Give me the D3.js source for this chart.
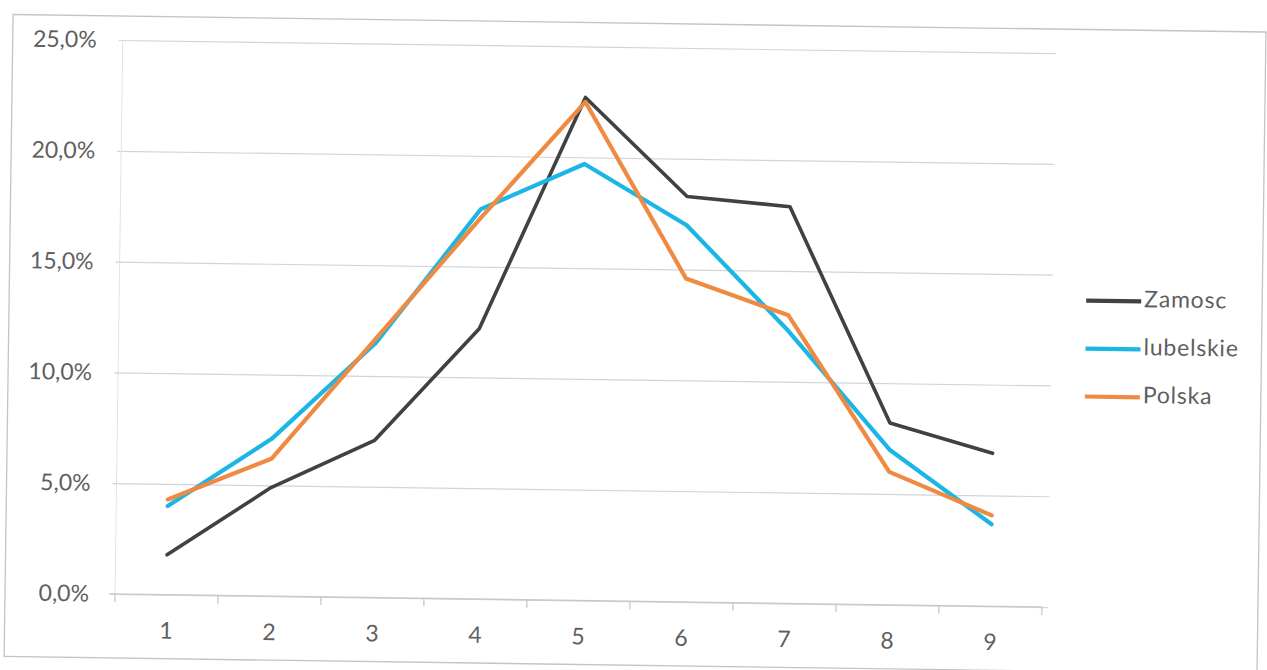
<!DOCTYPE html>
<html>
<head>
<meta charset="utf-8">
<script src="https://cdn.jsdelivr.net/npm/d3@7"></script>
<style>
  html, body { margin: 0; padding: 0; background: #ffffff; }
  svg { display: block; }
  text { font-family: Lato, "Open Sans", sans-serif; fill: #5f5f5f; }
</style>
</head>
<body>
<svg id="chart" width="1267" height="670"></svg>
<script>
const categories = ["1", "2", "3", "4", "5", "6", "7", "8", "9"];
const zamosc    = [1.8, 4.9, 7.1, 12.2, 22.7, 18.3, 17.9, 8.2, 6.9];
const lubelskie = [4.0, 7.1, 11.5, 17.6, 19.7, 17.0, 12.3, 7.0, 3.7];
const polska    = [4.3, 6.2, 11.7, 17.2, 22.5, 14.6, 13.0, 6.0, 4.1];
const yTicks = [0, 5, 10, 15, 20, 25];
const seriesNames = ["Zamosc", "lubelskie", "Polska"];
const seriesColors = ["#414141", "#1cb6e6", "#ef8a43"];
const seriesWidths = [3.6, 4.2, 4.2];

const series = [zamosc, lubelskie, polska].map((vals, i) => ({
  name: seriesNames[i], color: seriesColors[i], width: seriesWidths[i],
  values: vals.map((v, j) => ({ cat: categories[j], v }))
}));

const svg = d3.select("#chart");
const pLeft = 115, pRight = 1042, pTop = 40, pBottom = 594;

// the scanned page is slightly rotated
const g = svg.append("g").attr("transform", `rotate(0.8, ${pLeft}, ${pBottom})`);

// outer chart border
g.append("rect")
  .attr("x", 5).attr("y", 16).attr("width", 1253).attr("height", 642)
  .attr("fill", "none").attr("stroke", "#c4c4c4").attr("stroke-width", 1.3);

const x = d3.scaleBand().domain(categories).range([pLeft, pRight]).padding(0);
const y = d3.scaleLinear().domain([0, 25]).range([pBottom, pTop]);

// gridlines + y labels
const yAxis = d3.axisLeft(y)
  .tickValues(yTicks)
  .tickSize(-(pRight - pLeft + 10))
  .tickPadding(22)
  .tickFormat(d => d.toFixed(1).replace(".", ",") + "%");
const ya = g.append("g").attr("transform", `translate(${pLeft - 4},0)`).call(yAxis);
ya.select(".domain").remove();
ya.selectAll(".tick line").attr("stroke", "#d4d4d4").attr("stroke-width", 1.2);
ya.selectAll(".tick text").style("font-size", "23px").attr("fill", "#5f5f5f");

// faint vertical axis line
g.append("line")
  .attr("x1", pLeft).attr("x2", pLeft)
  .attr("y1", y(25)).attr("y2", y(0))
  .attr("stroke", "#e2e2e2").attr("stroke-width", 1);

// x axis line
g.append("line")
  .attr("x1", pLeft - 6).attr("x2", pRight)
  .attr("y1", y(0)).attr("y2", y(0))
  .attr("stroke", "#c8c8c8").attr("stroke-width", 1.3);

// x tick marks between categories
const tickPos = categories.map(c => x(c)).concat([x.range()[1]]);
g.append("g").selectAll("line").data(tickPos).join("line")
  .attr("x1", d => d).attr("x2", d => d)
  .attr("y1", y(0)).attr("y2", y(0) + 8)
  .attr("stroke", "#c8c8c8").attr("stroke-width", 1.3);

// x labels
g.append("g").selectAll("text").data(categories).join("text")
  .attr("x", d => x(d) + x.bandwidth() / 2)
  .attr("y", y(0) + 38)
  .attr("text-anchor", "middle")
  .attr("dominant-baseline", "middle")
  .style("font-size", "23px")
  .text(d => d);

// lines
const line = d3.line()
  .x(d => x(d.cat) + x.bandwidth() / 2)
  .y(d => y(d.v));

g.append("g").selectAll("path").data(series).join("path")
  .attr("d", d => line(d.values))
  .attr("fill", "none")
  .attr("stroke", d => d.color)
  .attr("stroke-width", d => d.width)
  .attr("stroke-linejoin", "round")
  .attr("stroke-linecap", "round");

// legend
const lg = g.append("g").attr("transform", "translate(1082, 287)");
const items = lg.selectAll("g").data(series).join("g")
  .attr("transform", (d, i) => `translate(0, ${i * 48})`);
items.append("line")
  .attr("x1", 0).attr("x2", 55).attr("y1", 0).attr("y2", 0)
  .attr("stroke", d => d.color).attr("stroke-width", 4.2);
items.append("text")
  .attr("x", 58).attr("y", 0)
  .attr("dominant-baseline", "middle")
  .style("font-size", "23px")
  .style("letter-spacing", "0.8px")
  .text(d => d.name);
</script>
</body>
</html>
